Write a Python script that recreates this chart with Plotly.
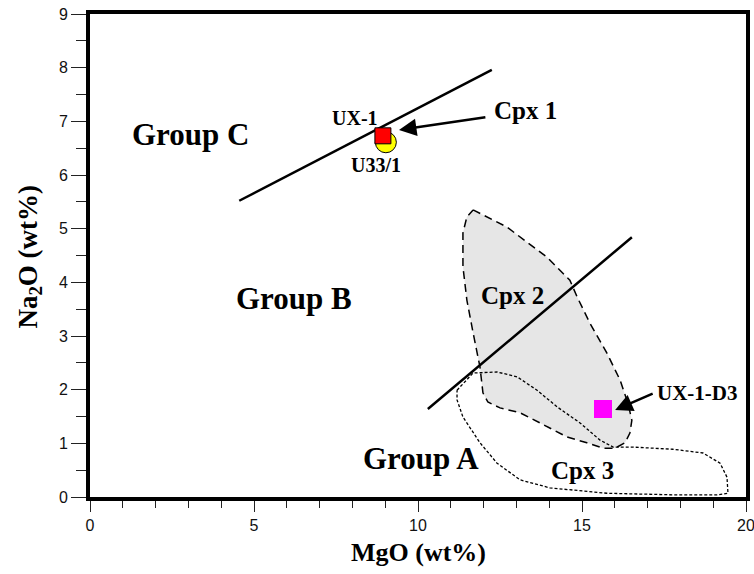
import plotly.graph_objects as go

# Boundary lines between groups
line1_x = [4.55, 12.25]
line1_y = [5.52, 7.96]
line2_x = [10.30, 16.52]
line2_y = [1.64, 4.84]

# Cpx 2 field (dashed, shaded)
cpx2_x = [11.68, 12.71, 13.93, 14.63, 14.85, 15.24, 15.76, 16.16, 16.40, 16.52, 16.46, 16.31,
          16.01, 15.64, 15.15, 14.54, 13.72, 13.11, 12.50, 12.13, 11.98, 11.89, 11.68, 11.49,
          11.37, 11.37, 11.49, 11.68]
cpx2_y = [5.35, 5.03, 4.47, 4.04, 3.73, 3.24, 2.68, 2.18, 1.75, 1.43, 1.19, 1.01,
          0.91, 0.91, 1.01, 1.12, 1.38, 1.57, 1.66, 1.77, 1.94, 2.42, 3.06, 3.67,
          4.29, 4.92, 5.22, 5.35]

# Cpx 3 field (dotted)
cpx3_x = [11.19, 11.68, 12.41, 13.02, 13.63, 14.24, 14.94, 15.55, 15.95, 16.55, 17.77, 18.69,
          19.21, 19.42, 19.45, 19.12, 17.77, 15.76, 14.02, 13.11, 12.41, 11.89, 11.37, 11.19, 11.19]
cpx3_y = [1.99, 2.31, 2.33, 2.24, 1.99, 1.68, 1.38, 1.06, 0.93, 0.93, 0.89, 0.82,
          0.63, 0.37, 0.07, 0.04, 0.04, 0.07, 0.17, 0.32, 0.63, 1.01, 1.49, 1.81, 1.99]

# Samples
u33_x, u33_y = [9.02], [6.61]
ux1_x, ux1_y = [8.93], [6.73]
uxd3_x, uxd3_y = [15.64], [1.64]

x_ticks = [0, 5, 10, 15, 20]
y_ticks = [0, 1, 2, 3, 4, 5, 6, 7, 8, 9]

fig = go.Figure()
fig.add_trace(go.Scatter(x=cpx2_x, y=cpx2_y, mode="lines", fill="toself",
                         fillcolor="#e6e6e6", line=dict(color="black", width=1.5, dash="8px,5px"),
                         hoverinfo="skip"))
fig.add_trace(go.Scatter(x=cpx3_x, y=cpx3_y, mode="lines",
                         line=dict(color="black", width=1.3, dash="3px,2px"), hoverinfo="skip"))
fig.add_trace(go.Scatter(x=line1_x, y=line1_y, mode="lines", line=dict(color="black", width=2.5)))
fig.add_trace(go.Scatter(x=line2_x, y=line2_y, mode="lines", line=dict(color="black", width=2.5)))
fig.add_trace(go.Scatter(x=u33_x, y=u33_y, mode="markers",
                         marker=dict(symbol="circle", size=21, color="#ffff00",
                                     line=dict(color="black", width=1))))
fig.add_trace(go.Scatter(x=ux1_x, y=ux1_y, mode="markers",
                         marker=dict(symbol="square", size=16, color="#ff0000",
                                     line=dict(color="black", width=1))))
fig.add_trace(go.Scatter(x=uxd3_x, y=uxd3_y, mode="markers",
                         marker=dict(symbol="square", size=18, color="#ff00ff",
                                     line=dict(width=0))))

serif = "Liberation Serif, Times New Roman, serif"
bold = lambda t: "<b>" + t + "</b>"

texts = [
    ("Group C", 3.05, 6.76, 31),
    ("Group B", 6.22, 3.69, 31),
    ("Group A", 10.09, 0.71, 31),
    ("Cpx 2", 12.87, 3.75, 25),
    ("Cpx 3", 15.00, 0.50, 25),
    ("Cpx 1", 13.29, 7.21, 25),
    ("UX-1", 8.08, 7.06, 20),
    ("U33/1", 8.72, 6.19, 20),
    ("UX-1-D3", 18.51, 1.94, 21),
]
for t, x, y, s in texts:
    fig.add_annotation(x=x, y=y, text=bold(t), showarrow=False,
                       font=dict(family=serif, size=s, color="black"))

# Arrows
fig.add_annotation(x=9.42, y=6.84, ax=12.10, ay=7.08, axref="x", ayref="y", text="",
                   showarrow=True, arrowhead=2, arrowsize=1.4, arrowwidth=2.5, arrowcolor="black")
fig.add_annotation(x=16.01, y=1.62, ax=17.20, ay=1.94, axref="x", ayref="y", text="",
                   showarrow=True, arrowhead=2, arrowsize=1.4, arrowwidth=2.5, arrowcolor="black")

# Axis titles
fig.add_annotation(x=0.5, y=-0.115, xref="paper", yref="paper", text=bold("MgO (wt%)"),
                   showarrow=False, yanchor="middle",
                   font=dict(family=serif, size=26, color="black"))
fig.add_annotation(x=-0.092, y=0.497, xref="paper", yref="paper",
                   text=bold("Na<sub>2</sub>O (wt%)"), showarrow=False, textangle=-90,
                   xanchor="center", yanchor="middle", font=dict(family=serif, size=27, color="black"))

axis_common = dict(showgrid=False, zeroline=False, showline=True, linecolor="black",
                   linewidth=4, mirror=True, ticks="outside", tickcolor="#222",
                   tickwidth=1, automargin=False, ticklabeloverflow="allow",
                   tickfont=dict(family="Liberation Sans, Arial, sans-serif",
                                 size=16, color="#111"))
fig.update_xaxes(range=[0, 20], tickvals=x_ticks, ticklen=11,
                 minor=dict(dtick=1, ticks="outside", ticklen=7, tickcolor="#222", tickwidth=1),
                 **axis_common)
fig.update_yaxes(range=[0, 9], tickvals=y_ticks, ticklen=15,
                 minor=dict(dtick=0.5, ticks="outside", ticklen=10, tickcolor="#222", tickwidth=1),
                 **axis_common)

fig.update_layout(width=754, height=574, margin=dict(l=90, r=8, t=14, b=77),
                  plot_bgcolor="white", paper_bgcolor="white", showlegend=False)

fig.write_html("out.html")
